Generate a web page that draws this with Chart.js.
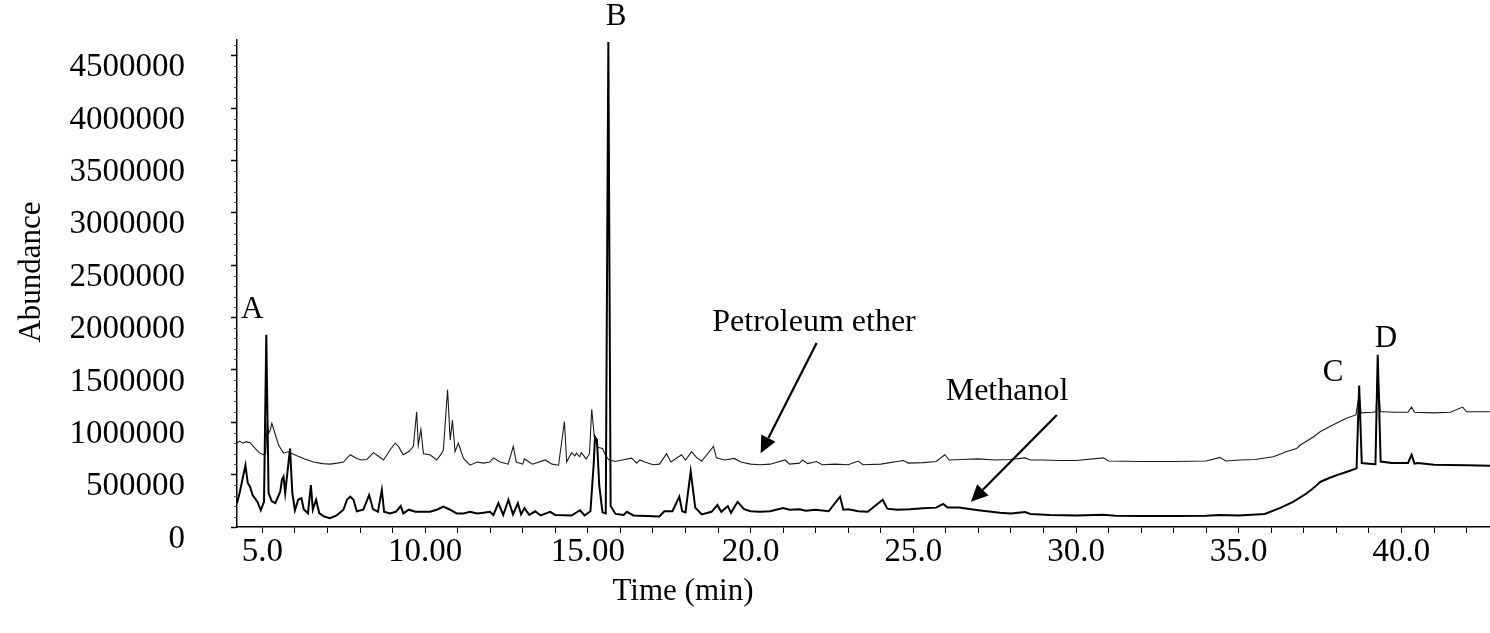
<!DOCTYPE html>
<html>
<head>
<meta charset="utf-8">
<title>GC-MS chromatogram</title>
<script src="https://cdn.jsdelivr.net/npm/chart.js@4.4.1/dist/chart.umd.min.js"></script>
<style>
  html, body { margin: 0; padding: 0; background: #fff; }
  #wrap { width: 1490px; height: 633px; }
</style>
</head>
<body>
<div id="wrap"><canvas id="chrom" width="1490" height="633"></canvas></div>
<script>
// retention time (min) / abundance for the petroleum ether extract
const petTime = [
  4.22, 4.30, 4.40, 4.50, 4.62, 4.75, 4.90, 5.03, 5.10, 5.15, 5.19, 5.24, 5.29, 5.38, 5.50,
  5.65, 5.80, 5.92, 6.06, 6.30, 6.57, 6.85, 7.08, 7.30, 7.49, 7.70, 7.90, 8.05, 8.21, 8.41,
  8.55, 8.72, 8.85, 8.92, 9.08, 9.18, 9.33, 9.50, 9.64, 9.74, 9.79, 9.87, 9.95, 10.15, 10.36,
  10.50, 10.56, 10.69, 10.77, 10.84, 10.92, 11.02, 11.18, 11.38, 11.60, 11.79, 11.99, 12.10, 12.30, 12.55,
  12.71, 12.80, 13.00, 13.05, 13.30, 13.69, 13.90, 14.10, 14.28, 14.35, 14.50, 14.60, 14.65, 14.75, 14.80,
  14.95, 15.05, 15.12, 15.20, 15.30, 15.45, 15.55, 15.65, 15.85, 16.05, 16.35, 16.50, 16.60, 16.75, 17.00,
  17.20, 17.42, 17.55, 17.88, 18.00, 18.19, 18.35, 18.50, 18.86, 18.95, 19.20, 19.50, 19.70, 20.00, 20.29,
  20.60, 21.06, 21.20, 21.50, 21.60, 21.75, 22.03, 22.20, 22.60, 23.00, 23.31, 23.45, 24.00, 24.69, 24.85,
  25.30, 25.70, 25.97, 26.10, 26.50, 27.00, 27.50, 28.00, 28.43, 28.60, 29.00, 29.50, 30.00, 30.84, 31.00,
  32.00, 33.00, 34.00, 34.42, 34.60, 35.04, 35.50, 36.06, 36.27, 36.47, 36.78, 36.88, 37.29, 37.50, 37.80,
  38.06, 38.32, 38.60, 38.70, 38.76, 39.10, 39.22, 39.27, 39.35, 39.44, 39.80, 40.20, 40.31, 40.40, 41.00,
  41.50, 41.88, 42.00, 42.72
];
const petAbund = [
  800000, 820000, 800000, 815000, 805000, 760000, 710000, 690000, 700000, 1000000, 895000, 920000, 990000, 900000, 780000,
  705000, 720000, 700000, 680000, 650000, 620000, 605000, 600000, 610000, 620000, 690000, 655000, 640000, 645000, 710000,
  680000, 640000, 700000, 735000, 800000, 770000, 690000, 720000, 770000, 1100000, 780000, 930000, 700000, 690000, 640000,
  700000, 735000, 1310000, 830000, 1020000, 720000, 800000, 655000, 590000, 620000, 610000, 620000, 660000, 620000, 600000,
  770000, 620000, 600000, 650000, 600000, 640000, 600000, 590000, 1007000, 620000, 710000, 680000, 705000, 670000, 710000,
  650000, 700000, 1125000, 860000, 760000, 750000, 680000, 640000, 625000, 640000, 657000, 610000, 640000, 620000, 595000,
  600000, 700000, 620000, 690000, 640000, 720000, 660000, 630000, 770000, 660000, 640000, 655000, 620000, 600000, 595000,
  600000, 640000, 600000, 610000, 640000, 605000, 625000, 595000, 600000, 595000, 630000, 595000, 600000, 635000, 610000,
  615000, 625000, 690000, 640000, 645000, 650000, 640000, 645000, 660000, 640000, 640000, 635000, 635000, 660000, 630000,
  625000, 625000, 630000, 665000, 630000, 640000, 645000, 670000, 695000, 720000, 750000, 780000, 860000, 910000, 960000,
  1000000, 1040000, 1070000, 1260000, 1090000, 1095000, 1100000, 1480000, 1100000, 1100000, 1095000, 1095000, 1145000, 1095000, 1090000,
  1095000, 1145000, 1100000, 1100000
];

// retention time (min) / abundance for the methanol extract
const methTime = [
  4.22, 4.30, 4.48, 4.55, 4.62, 4.70, 4.85, 4.95, 5.05, 5.12, 5.19, 5.29, 5.40, 5.55, 5.60,
  5.65, 5.70, 5.85, 5.92, 6.00, 6.10, 6.20, 6.27, 6.40, 6.49, 6.55, 6.65, 6.75, 6.90, 7.08,
  7.28, 7.49, 7.60, 7.70, 7.80, 7.90, 8.10, 8.28, 8.40, 8.55, 8.67, 8.74, 8.92, 9.10, 9.25,
  9.33, 9.50, 9.70, 10.15, 10.36, 10.56, 10.77, 10.97, 11.18, 11.38, 11.60, 11.79, 11.99, 12.10, 12.25,
  12.40, 12.56, 12.70, 12.85, 12.95, 13.05, 13.20, 13.38, 13.55, 13.84, 14.00, 14.50, 14.76, 14.90, 15.08,
  15.18, 15.22, 15.28, 15.35, 15.45, 15.55, 15.63, 15.70, 15.85, 16.10, 16.20, 16.40, 16.80, 17.20, 17.35,
  17.60, 17.81, 17.90, 18.00, 18.16, 18.30, 18.50, 18.80, 18.98, 19.10, 19.30, 19.40, 19.60, 19.80, 20.00,
  20.29, 20.60, 21.00, 21.20, 21.50, 21.70, 22.00, 22.40, 22.75, 22.85, 23.00, 23.31, 23.60, 24.06, 24.20,
  24.50, 24.90, 25.30, 25.70, 25.92, 26.05, 26.40, 27.00, 27.66, 28.00, 28.43, 28.60, 29.20, 30.00, 30.84,
  31.20, 32.00, 33.00, 34.00, 34.42, 35.00, 35.54, 35.80, 36.26, 36.67, 36.88, 37.08, 37.25, 37.38, 37.50,
  37.80, 38.06, 38.35, 38.62, 38.70, 38.78, 39.00, 39.20, 39.27, 39.36, 39.70, 40.20, 40.31, 40.40, 40.50,
  41.00, 42.00, 42.72
];
const methAbund = [
  227000, 325000, 590000, 420000, 385000, 305000, 240000, 160000, 240000, 1835000, 325000, 245000, 227000, 340000, 450000,
  480000, 325000, 750000, 325000, 160000, 260000, 275000, 170000, 130000, 400000, 165000, 260000, 130000, 100000, 85000,
  110000, 165000, 260000, 290000, 260000, 150000, 165000, 305000, 170000, 145000, 355000, 145000, 130000, 145000, 200000,
  130000, 165000, 145000, 145000, 165000, 195000, 165000, 130000, 130000, 145000, 130000, 135000, 145000, 115000, 227000,
  115000, 260000, 120000, 227000, 120000, 180000, 115000, 150000, 110000, 145000, 115000, 110000, 160000, 110000, 150000,
  600000, 860000, 830000, 400000, 140000, 130000, 4630000, 200000, 125000, 115000, 145000, 110000, 105000, 100000, 150000,
  150000, 290000, 150000, 140000, 530000, 185000, 120000, 145000, 210000, 145000, 200000, 135000, 240000, 170000, 150000,
  146000, 150000, 180000, 165000, 170000, 155000, 165000, 150000, 290000, 165000, 170000, 150000, 145000, 260000, 175000,
  165000, 170000, 178000, 185000, 220000, 185000, 185000, 160000, 135000, 130000, 142000, 125000, 115000, 110000, 118000,
  108000, 105000, 105000, 108000, 115000, 110000, 120000, 125000, 180000, 240000, 280000, 320000, 360000, 395000, 430000,
  470000, 500000, 530000, 560000, 1350000, 610000, 605000, 600000, 1645000, 625000, 610000, 610000, 690000, 605000, 610000,
  595000, 590000, 586000
];

// axis labels as printed
const timeTicks = [5, 10, 15, 20, 25, 30, 35, 40];
const timeTickText = ['5.0', '10.00', '15.00', '20.0', '25.0', '30.0', '35.0', '40.0'];
const abundTicks = [0, 500000, 1000000, 1500000, 2000000, 2500000, 3000000, 3500000, 4000000, 4500000];

// peak letters and solvent callouts, placed in data units
const peakNames = ['A', 'B', 'C', 'D'];
const peakNameAt = [[4.69, 2070000], [15.87, 4870000], [37.9, 1470000], [39.52, 1800000]];
const callouts = [
  { text: 'Petroleum ether', at: [21.95, 1950000], from: [22.03, 1756000], to: [20.31, 705000] },
  { text: 'Methanol', at: [27.88, 1290000], from: [29.41, 1070000], to: [26.77, 240000] }
];

const SERIF = '"Liberation Serif", "Times New Roman", serif';
const X_MIN = 4.22, X_MAX = 42.72;
const Y_MAX = 4650000;
const Y_MINOR = 100000;

const toPoints = (xs, ys) => xs.map((x, i) => ({ x: x, y: ys[i] }));

function drawArrow(ctx, x1, y1, x2, y2) {
  const ang = Math.atan2(y2 - y1, x2 - x1);
  const len = 17, half = 8;
  const bx = x2 - len * Math.cos(ang), by = y2 - len * Math.sin(ang);
  ctx.beginPath();
  ctx.moveTo(x1, y1);
  ctx.lineTo(bx, by);
  ctx.lineWidth = 2.2;
  ctx.strokeStyle = '#000';
  ctx.stroke();
  ctx.beginPath();
  ctx.moveTo(x2, y2);
  ctx.lineTo(bx + half * Math.sin(ang), by - half * Math.cos(ang));
  ctx.lineTo(bx - half * Math.sin(ang), by + half * Math.cos(ang));
  ctx.closePath();
  ctx.fillStyle = '#000';
  ctx.fill();
}

const notes = {
  id: 'notes',
  afterDraw(chart) {
    const { ctx, scales } = chart;
    const xs = scales.x, ys = scales.y;
    ctx.save();

    // small minor ticks on the abundance axis
    ctx.strokeStyle = '#555';
    ctx.lineWidth = 1;
    for (let v = Y_MINOR; v < Y_MAX; v += Y_MINOR) {
      if (abundTicks.includes(v)) continue;
      const py = Math.round(ys.getPixelForValue(v)) + 0.5;
      ctx.beginPath();
      ctx.moveTo(ys.right - 3, py);
      ctx.lineTo(ys.right, py);
      ctx.stroke();
    }

    ctx.fillStyle = '#000';
    ctx.textAlign = 'center';
    ctx.textBaseline = 'middle';

    ctx.font = '31px ' + SERIF;
    peakNames.forEach((name, i) => {
      const p = peakNameAt[i];
      ctx.fillText(name, xs.getPixelForValue(p[0]), ys.getPixelForValue(p[1]));
    });

    ctx.font = '32px ' + SERIF;
    callouts.forEach(c => {
      ctx.fillText(c.text, xs.getPixelForValue(c.at[0]), ys.getPixelForValue(c.at[1]));
      drawArrow(ctx,
        xs.getPixelForValue(c.from[0]), ys.getPixelForValue(c.from[1]),
        xs.getPixelForValue(c.to[0]), ys.getPixelForValue(c.to[1]));
    });

    // axis titles
    ctx.font = '31px ' + SERIF;
    ctx.fillText('Time (min)', 683, 592);
    ctx.translate(32, 272);
    ctx.rotate(-Math.PI / 2);
    ctx.fillText('Abundance', 0, 0);
    ctx.restore();
  }
};

new Chart(document.getElementById('chrom'), {
  type: 'line',
  data: {
    datasets: [
      {
        label: 'Methanol',
        data: toPoints(methTime, methAbund),
        borderColor: '#000',
        borderWidth: 2,
        pointRadius: 0,
        tension: 0
      },
      {
        label: 'Petroleum ether',
        data: toPoints(petTime, petAbund),
        borderColor: '#1a1a1a',
        borderWidth: 1.1,
        pointRadius: 0,
        tension: 0
      }
    ]
  },
  options: {
    responsive: false,
    animation: false,
    devicePixelRatio: 1,
    layout: { padding: { top: 40, left: 0, right: 0, bottom: 0 } },
    plugins: { legend: { display: false }, tooltip: { enabled: false } },
    scales: {
      x: {
        type: 'linear',
        min: X_MIN,
        max: X_MAX,
        // one tick per minute, labelled every five
        afterBuildTicks: (scale) => {
          const t = [];
          for (let m = Math.ceil(X_MIN); m <= Math.floor(X_MAX); m++) t.push({ value: m });
          scale.ticks = t;
        },
        afterFit: (scale) => {
          scale.height = 106;
          scale.paddingLeft = 0;
          scale.paddingRight = 0;
        },
        border: { display: true, color: '#000', width: 1.5 },
        grid: { drawOnChartArea: false, drawTicks: true, tickLength: 6, color: '#000', tickColor: '#000' },
        ticks: {
          autoSkip: false,
          maxRotation: 0,
          padding: 0,
          color: '#000',
          font: { family: SERIF, size: 33 },
          callback: (v) => {
            const i = timeTicks.indexOf(v);
            return i >= 0 ? timeTickText[i] : '';
          }
        }
      },
      y: {
        min: 0,
        max: Y_MAX,
        afterBuildTicks: (scale) => {
          scale.ticks = abundTicks.map(v => ({ value: v }));
        },
        afterFit: (scale) => {
          scale.width = 237;
          scale.paddingTop = 0;
          scale.paddingBottom = 0;
        },
        border: { display: true, color: '#000', width: 1.5 },
        grid: { drawOnChartArea: false, drawTicks: true, tickLength: 6, color: '#000', tickColor: '#000', tickWidth: 1.5 },
        ticks: {
          autoSkip: false,
          padding: 46,
          labelOffset: 12,
          color: '#000',
          font: { family: SERIF, size: 33 },
          callback: (v) => String(v)
        }
      }
    }
  },
  plugins: [notes]
});
</script>
</body>
</html>
